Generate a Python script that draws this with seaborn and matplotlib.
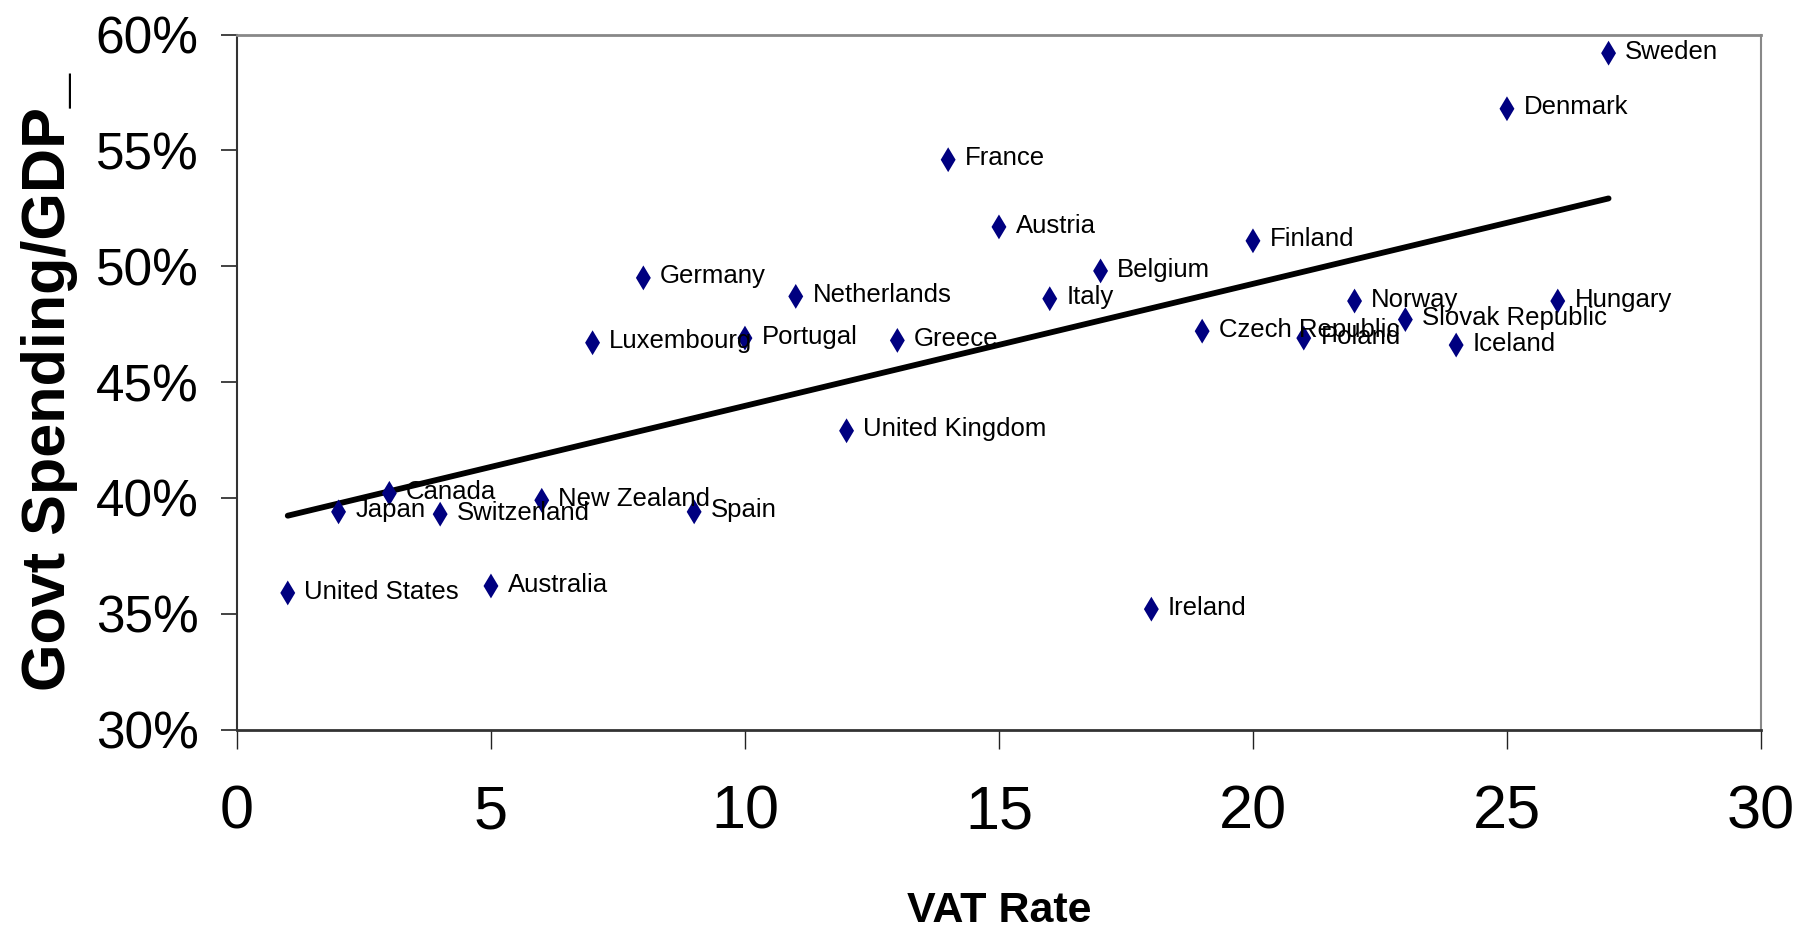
import numpy as np
import pandas as pd
import matplotlib
matplotlib.use("Agg")
import matplotlib.pyplot as plt
from matplotlib.ticker import FuncFormatter
import seaborn as sns

# data
countries = ["United States", "Japan", "Canada", "Switzerland", "Australia",
             "New Zealand", "Luxembourg", "Germany", "Spain", "Portugal",
             "Netherlands", "United Kingdom", "Greece", "France", "Austria",
             "Italy", "Belgium", "Ireland", "Czech Republic", "Finland",
             "Poland", "Norway", "Slovak Republic", "Iceland", "Denmark",
             "Hungary", "Sweden"]
vat_rate = [1, 2, 3, 4, 5, 6, 7, 8, 9, 10, 11, 12, 13, 14, 15, 16, 17, 18,
            19, 20, 21, 22, 23, 24, 25, 26, 27]
govt_spending = [35.9, 39.4, 40.2, 39.3, 36.2, 39.9, 46.7, 49.5, 39.4, 46.9,
                 48.7, 42.9, 46.8, 54.6, 51.7, 48.6, 49.8, 35.2, 47.2, 51.1,
                 46.9, 48.5, 47.7, 46.6, 56.8, 48.5, 59.2]

df = pd.DataFrame({"country": countries, "vat": vat_rate, "spend": govt_spending})

sns.set_theme(style="white")
plt.rcParams["font.family"] = ["Liberation Sans", "DejaVu Sans"]
plt.rcParams["text.color"] = "black"
plt.rcParams["axes.labelcolor"] = "black"
plt.rcParams["xtick.color"] = "black"
plt.rcParams["ytick.color"] = "black"

fig = plt.figure(figsize=(18.13, 9.36), dpi=100)
ax = fig.add_axes([0.1307, 0.2205, 0.8406, 0.7425])

# trend line + points
sns.regplot(data=df, x="vat", y="spend", scatter=False, ci=None, ax=ax,
            line_kws={"color": "black", "linewidth": 4.2})
sns.scatterplot(data=df, x="vat", y="spend", marker="d", s=160, color="#000080",
                edgecolor="none", ax=ax, zorder=3)

for _, r in df.iterrows():
    ax.annotate(r["country"], (r["vat"], r["spend"]), xytext=(12, 1),
                textcoords="offset points", va="center", ha="left",
                fontsize=18.5, color="black")

ax.set_xlim(0, 30)
ax.set_ylim(30, 60)
ax.set_xticks(range(0, 31, 5))
ax.set_yticks(range(30, 61, 5))
ax.yaxis.set_major_formatter(FuncFormatter(lambda v, p: f"{v:.0f}%"))

ax.tick_params(axis="y", direction="out", length=11.5, width=1.2, color="#222222",
               pad=16, labelsize=37, left=True)
ax.tick_params(axis="x", direction="out", length=13.5, width=1, color="#222222",
               pad=26, labelsize=44, bottom=True)

ax.set_xlabel("VAT Rate", fontsize=31, fontweight="bold", labelpad=36)
ax.set_ylabel("Govt Spending/GDP_", fontsize=44, fontweight="bold", labelpad=13)

ax.spines["left"].set_color("#333333")
ax.spines["left"].set_linewidth(1.5)
ax.spines["bottom"].set_color("#333333")
ax.spines["bottom"].set_linewidth(2)
ax.spines["top"].set_color("#888888")
ax.spines["top"].set_linewidth(2)
ax.spines["right"].set_color("#888888")
ax.spines["right"].set_linewidth(1.5)
ax.grid(False)

fig.savefig("out.png", dpi=100, facecolor="white")
